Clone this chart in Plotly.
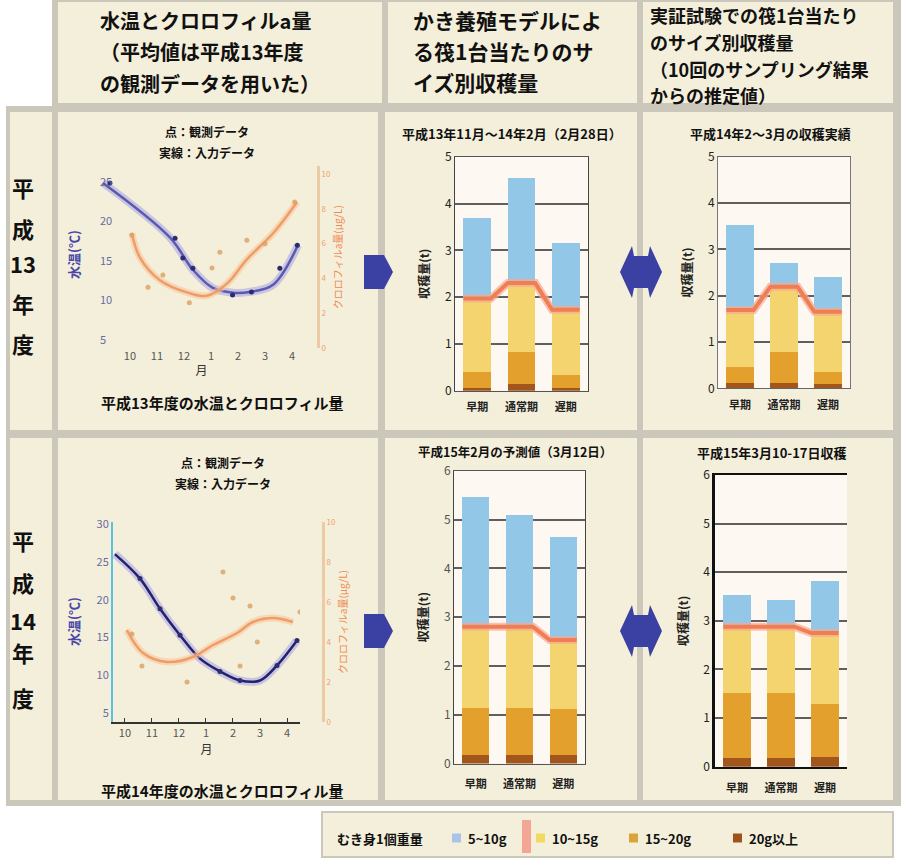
import plotly.graph_objects as go
import numpy as np

W, H = 901, 861
FONT = "Noto Sans CJK JP"


def X(p):
    return p / W


def Y(p):
    return 1 - p / H


# ---------------- data ----------------
months = ["10", "11", "12", "1", "2", "3", "4"]
month_pos = [0, 1, 2, 3, 4, 5, 6]
categories = ["早期", "通常期", "遅期"]

# H13 (2001) water temperature: input line and observations (month offset from Oct)
h13_temp_t = [-1.0, 1.48, 2.33, 3.07, 3.81, 4.44, 5.30, 6.22]
h13_temp_v = [24.9, 18.0, 13.9, 11.6, 11.0, 11.1, 12.0, 17.0]
h13_temp_obs_t = [-0.74, 1.67, 1.96, 2.33, 3.80, 4.50, 5.55, 6.20]
h13_temp_obs_v = [24.9, 17.9, 15.4, 14.1, 10.7, 11.1, 14.1, 17.0]
# H13 chlorophyll a
h13_chl_t = [0.07, 0.37, 1.11, 2.11, 2.85, 3.59, 4.33, 5.30, 6.19]
h13_chl_v = [6.6, 5.2, 3.9, 3.2, 3.0, 3.7, 5.1, 6.6, 8.4]
h13_chl_obs_t = [0.07, 0.67, 1.22, 2.20, 3.04, 3.33, 4.33, 5.00, 6.10]
h13_chl_obs_v = [6.5, 3.5, 4.2, 2.6, 4.6, 5.5, 6.2, 6.0, 8.4]

# H14 (2002) water temperature
h14_temp_t = [-0.37, 0.56, 1.30, 2.04, 2.78, 3.52, 4.26, 5.00, 5.63, 6.37]
h14_temp_v = [26.05, 22.8, 18.8, 15.3, 12.2, 10.5, 9.3, 9.3, 11.3, 14.6]
h14_temp_obs_t = [0.56, 1.30, 2.04, 3.52, 4.26, 5.63, 6.37]
h14_temp_obs_v = [22.8, 18.8, 15.3, 10.5, 9.3, 11.3, 14.6]
# H14 chlorophyll a
h14_chl_t = [0.07, 0.67, 1.56, 2.52, 3.26, 4.15, 4.74, 5.48, 6.22]
h14_chl_v = [4.6, 3.45, 3.0, 3.25, 3.85, 4.45, 5.0, 5.2, 5.0]
h14_chl_obs_t = [0.26, 0.63, 2.30, 3.63, 4.00, 4.26, 4.63, 4.90, 6.48]
h14_chl_obs_v = [4.4, 2.8, 2.0, 7.5, 6.2, 2.8, 5.8, 4.0, 5.5]

# harvest per raft by size class (t): [早期, 通常期, 遅期]
h13_model = dict(g20=[0.05, 0.15, 0.05], g15=[0.36, 0.68, 0.29],
                 g10=[1.56, 1.47, 1.39], g5=[1.72, 2.24, 1.43])
h13_trial = dict(g20=[0.11, 0.12, 0.10], g15=[0.36, 0.67, 0.26],
                 g10=[1.22, 1.40, 1.29], g5=[1.84, 0.51, 0.76])
h14_model = dict(g20=[0.17, 0.17, 0.17], g15=[0.97, 0.97, 0.95],
                 g10=[1.66, 1.66, 1.41], g5=[2.67, 2.29, 2.12])
h14_trial = dict(g20=[0.17, 0.17, 0.20], g15=[1.34, 1.34, 1.10],
                 g10=[1.37, 1.37, 1.45], g5=[0.65, 0.55, 1.06])

size_keys = ["g20", "g15", "g10", "g5"]
size_names = ["20g以上", "15~20g", "10~15g", "5~10g"]
size_colors = {"g20": "#a3561c", "g15": "#e4a02c", "g10": "#f3d46e", "g5": "#92c7e7"}

fig = go.Figure()

# ---------------- line charts ----------------
def line_chart(xa, ya, ya2, tt, tv, tot, tov, ct, cv, cot, cov, core):
    fig.add_trace(go.Scatter(x=tt, y=tv, mode="lines", xaxis=xa, yaxis=ya,
                             line=dict(color="rgba(165,160,230,0.55)", width=8, shape="spline"),
                             hoverinfo="skip"))
    fig.add_trace(go.Scatter(x=tt, y=tv, mode="lines", xaxis=xa, yaxis=ya,
                             line=dict(color=core, width=2.5, shape="spline")))
    fig.add_trace(go.Scatter(x=tot, y=tov, mode="markers", xaxis=xa, yaxis=ya,
                             marker=dict(color="#2c2c70", size=5)))
    fig.add_trace(go.Scatter(x=ct, y=cv, mode="lines", xaxis=xa, yaxis=ya2,
                             line=dict(color="rgba(250,195,150,0.55)", width=7, shape="spline"),
                             hoverinfo="skip"))
    fig.add_trace(go.Scatter(x=ct, y=cv, mode="lines", xaxis=xa, yaxis=ya2,
                             line=dict(color="#ee9d6a", width=2.5, shape="spline")))
    fig.add_trace(go.Scatter(x=cot, y=cov, mode="markers", xaxis=xa, yaxis=ya2,
                             marker=dict(color="#d9a060", size=5, opacity=0.8)))


line_chart("x", "y", "y2", h13_temp_t, h13_temp_v, h13_temp_obs_t, h13_temp_obs_v,
           h13_chl_t, h13_chl_v, h13_chl_obs_t, h13_chl_obs_v, "#5a5ab0")
line_chart("x4", "y5", "y6", h14_temp_t, h14_temp_v, h14_temp_obs_t, h14_temp_obs_v,
           h14_chl_t, h14_chl_v, h14_chl_obs_t, h14_chl_obs_v, "#22226e")

# ---------------- bar charts ----------------
def bar_chart(xa, ya, data):
    xs = np.arange(len(categories))
    for k, nm in zip(size_keys, size_names):
        fig.add_trace(go.Bar(x=xs, y=data[k], name=nm, width=0.62, xaxis=xa, yaxis=ya,
                             marker=dict(color=size_colors[k], line=dict(width=0))))
    cum = np.array(data["g20"]) + np.array(data["g15"]) + np.array(data["g10"])
    lx, ly = [], []
    for i, c in enumerate(cum):
        lx += [i - 0.31, i + 0.31]
        ly += [c, c]
    fig.add_trace(go.Scatter(x=lx, y=ly, mode="lines", xaxis=xa, yaxis=ya,
                             line=dict(color="rgba(245,170,150,0.7)", width=8)))
    fig.add_trace(go.Scatter(x=lx, y=ly, mode="lines", xaxis=xa, yaxis=ya,
                             line=dict(color="#ef7f52", width=4)))


bar_chart("x2", "y3", h13_model)
bar_chart("x3", "y4", h13_trial)
bar_chart("x5", "y7", h14_model)
bar_chart("x6", "y8", h14_trial)

# ---------------- axes ----------------
tickf = dict(family=FONT, size=11, color="#555555")
lav = dict(family=FONT, size=11, color="#6a6aa0")
org = dict(family=FONT, size=8, color="#f0a070")
barf = dict(family=FONT, size=12, color="#222222")
catf = dict(family=FONT, size=11, color="#222222", weight="bold")
ytitle = dict(text="収穫量(t)", font=dict(family=FONT, size=12, color="#222222", weight="bold"),
              standoff=12)

layout_axes = dict(
    # row 1 line chart
    xaxis=dict(domain=[X(97), X(306)], range=[-1.22, 6.52], anchor="y", tickvals=month_pos,
               ticktext=months, showgrid=False, zeroline=False, showline=False, tickfont=tickf,
               title=dict(text="月", font=dict(family=FONT, size=12, color="#333"), standoff=4)),
    yaxis=dict(domain=[Y(348), Y(166.3)], range=[4, 27], anchor="x", tickvals=[5, 10, 15, 20, 25],
               ticklabelposition="inside", showgrid=False, zeroline=False, showline=False,
               tickfont=lav),
    yaxis2=dict(overlaying="y", anchor="free", position=X(318), side="right",
                range=[0, 10.45], tickvals=[0, 2, 4, 6, 8, 10], showgrid=False, zeroline=False,
                showline=True, linecolor="#eccaa6", linewidth=3, tickfont=org,
                title=dict(text="クロロフィルa量(μg/L)",
                           font=dict(family=FONT, size=10, color="#f08850"), standoff=4)),
    # row 1 bar charts
    xaxis2=dict(domain=[X(455), X(588)], range=[-0.5, 2.5], anchor="y3", tickvals=[0, 1, 2],
                ticktext=categories, showgrid=False, zeroline=False, showline=True, mirror=True,
                linecolor="#555", tickfont=catf, ticklabelstandoff=6),
    yaxis3=dict(domain=[Y(390.7), Y(156.7)], range=[0, 5], anchor="x2", dtick=1, showgrid=True,
                gridcolor="#5f5f5f", gridwidth=1.5, zeroline=False, showline=True, mirror=True,
                linecolor="#444", tickfont=barf, title=ytitle),
    xaxis3=dict(domain=[X(718), X(850)], range=[-0.5, 2.5], anchor="y4", tickvals=[0, 1, 2],
                ticktext=categories, showgrid=False, zeroline=False, showline=True, mirror=True,
                linecolor="#666", tickfont=catf, ticklabelstandoff=6),
    yaxis4=dict(domain=[Y(388.3), Y(156.7)], range=[0, 5], anchor="x3", dtick=1, showgrid=True,
                gridcolor="#5f5f5f", gridwidth=1.5, zeroline=False, showline=True, mirror=True,
                linecolor="#777", tickfont=barf, title=ytitle),
    # row 2 line chart
    xaxis4=dict(domain=[X(113), X(300)], range=[-0.44, 6.48], anchor="y5", tickvals=month_pos,
                ticktext=months, showgrid=False, zeroline=False, showline=True, linecolor="#333",
                linewidth=2, ticks="inside", ticklen=4, tickcolor="#333", tickfont=tickf,
                title=dict(text="月", font=dict(family=FONT, size=12, color="#333"), standoff=6)),
    yaxis5=dict(domain=[Y(722), Y(522)], range=[3.8, 30.3], anchor="x4",
                tickvals=[5, 10, 15, 20, 25, 30], showgrid=False, zeroline=False, showline=True,
                linecolor="#5cc0e0", linewidth=2, tickfont=lav),
    yaxis6=dict(overlaying="y5", anchor="free", position=X(323), side="right", range=[0, 10],
                dtick=2, showgrid=False, zeroline=False, showline=True, linecolor="#eccaa6",
                linewidth=3, tickfont=org,
                title=dict(text="クロロフィルa量(μg/L)",
                           font=dict(family=FONT, size=10, color="#f08850"), standoff=4)),
    # row 2 bar charts
    xaxis5=dict(domain=[X(454), X(585)], range=[-0.5, 2.5], anchor="y7", tickvals=[0, 1, 2],
                ticktext=categories, showgrid=False, zeroline=False, showline=True, mirror=True,
                linecolor="#555", tickfont=catf, ticklabelstandoff=10),
    yaxis7=dict(domain=[Y(763.5), Y(470.7)], range=[0, 6], anchor="x5", dtick=1, showgrid=True,
                gridcolor="#5f5f5f", gridwidth=1.5, zeroline=False, showline=True, mirror=True,
                linecolor="#444", tickfont=dict(family=FONT, size=12, color="#555"),
                title=ytitle),
    xaxis6=dict(domain=[X(715), X(847)], range=[-0.5, 2.5], anchor="y8", tickvals=[0, 1, 2],
                ticktext=categories, showgrid=False, zeroline=False, showline=True, mirror=True,
                linecolor="#111", linewidth=2, tickfont=catf, ticklabelstandoff=10),
    yaxis8=dict(domain=[Y(766.7), Y(475)], range=[0, 6], anchor="x6", dtick=1, showgrid=True,
                gridcolor="#5f5f5f", gridwidth=1.5, zeroline=False, showline=True,
                linecolor="#111", linewidth=2.5, tickfont=barf, title=ytitle),
)
for ax in layout_axes.values():
    ax["automargin"] = False

# ---------------- background shapes ----------------
BEIGE = "#f4efda"
GRAY = "#cbc7bb"
shapes = []


def rect(x0, y0, x1, y1, fill, line=None, lw=0):
    shapes.append(dict(type="rect", xref="paper", yref="paper", x0=X(x0), x1=X(x1),
                       y0=Y(y1), y1=Y(y0), fillcolor=fill, layer="below",
                       line=dict(width=lw, color=line or fill)))


rect(52, 0, 901, 108, GRAY)
rect(6, 106, 901, 806, GRAY)
# header cells
rect(58, 2, 382, 103, BEIGE)
rect(388, 2, 637, 103, BEIGE)
rect(643, 2, 893, 103, BEIGE)
# row labels
rect(10, 112, 52, 430, BEIGE)
rect(10, 438, 52, 800, BEIGE)
# chart cells
for (y0, y1) in [(112, 430), (438, 800)]:
    rect(58, y0, 378, y1, BEIGE)
    rect(385, y0, 637, y1, BEIGE)
    rect(643, y0, 893, y1, BEIGE)
# legend box
rect(322, 812, 893, 857, BEIGE, line=GRAY, lw=2)

# white plot areas for bar charts
for xr, yr in [("x2", "y3"), ("x3", "y4"), ("x5", "y7"), ("x6", "y8")]:
    shapes.append(dict(type="rect", xref=f"{xr} domain", yref=f"{yr} domain", x0=0, x1=1,
                       y0=0, y1=1, fillcolor="#fdf8f2", layer="below", line=dict(width=0)))


def path(pts):
    s = "M" + " L".join(f"{X(a):.5f},{Y(b):.5f}" for a, b in pts) + " Z"
    return s


ARROW = "#3b41a3"
for cy in [272, 631]:
    shapes.append(dict(type="path", xref="paper", yref="paper",
                       path=path([(364, cy - 17), (384, cy - 17), (393, cy), (384, cy + 17),
                                  (364, cy + 17)]),
                       fillcolor=ARROW, line=dict(width=0)))
    shapes.append(dict(type="path", xref="paper", yref="paper",
                       path=path([(620, cy), (632, cy - 26), (634, cy - 16), (648, cy - 16),
                                  (650, cy - 26), (662, cy), (650, cy + 26), (648, cy + 16),
                                  (634, cy + 16), (632, cy + 26)]),
                       fillcolor=ARROW, line=dict(width=0)))

# legend swatches
for (x0, col, hgt) in [(452, "#a9c4e8", 9), (536, "#f0da62", 9), (629, "#d9a53a", 9),
                       (733, "#a0521c", 9)]:
    rect(x0, 838 - hgt / 2, x0 + 9, 838 + hgt / 2, col)
rect(522, 820, 531, 853, "#f4a694")

# ---------------- annotations ----------------
ann = []


def text(x, y, s, size=12, color="#111", bold=True, xanchor="center", angle=0):
    ann.append(dict(x=X(x), y=Y(y), xref="paper", yref="paper", text=s, showarrow=False,
                    xanchor=xanchor, yanchor="middle", textangle=angle,
                    font=dict(family=FONT, size=size, color=color,
                              weight="bold" if bold else "normal")))


# headers
for s, y in [("水温とクロロフィルa量", 20), ("（平均値は平成13年度", 52), ("の観測データを用いた）", 84)]:
    text(98, y, s, size=20, xanchor="left")
for s, y in [("かき養殖モデルによ", 20), ("る筏1台当たりのサ", 51), ("イズ別収穫量", 82)]:
    text(411, y, s, size=21, xanchor="left")
for s, y in [("実証試験での筏1台当たり", 15), ("のサイズ別収穫量", 42), ("（10回のサンプリング結果", 69),
             ("からの推定値）", 95)]:
    text(648, y, s, size=18, xanchor="left")

# row labels
for s, y in zip(["平", "成", "13", "年", "度"], [187, 228, 263, 303, 343]):
    text(23, y, s, size=22)
for s, y in zip(["平", "成", "14", "年", "度"], [540, 582, 620, 652, 697]):
    text(23, y, s, size=22)

# line chart texts
text(207, 132, "点：観測データ", size=12)
text(207, 153, "実線：入力データ", size=12)
text(222, 403, "平成13年度の水温とクロロフィル量", size=15)
text(73, 255, "水温(℃)", size=13, color="#4848a8", angle=-90)
text(223, 462, "点：観測データ", size=12)
text(223, 483, "実線：入力データ", size=12)
text(222, 790, "平成14年度の水温とクロロフィル量", size=15)
text(73, 622, "水温(℃)", size=13, color="#4848a8", angle=-90)

# bar chart titles
text(512, 133, "平成13年11月～14年2月（2月28日）", size=13)
text(770, 133, "平成14年2～3月の収穫実績", size=13)
text(515, 451, "平成15年2月の予測値（3月12日）", size=12.5)
text(772, 452, "平成15年3月10-17日収穫", size=13)

# legend texts
text(335, 838, "むき身1個重量", size=13, xanchor="left")
text(466, 838, "5~10g", size=13, xanchor="left")
text(550, 838, "10~15g", size=13, xanchor="left")
text(643, 838, "15~20g", size=13, xanchor="left")
text(747, 838, "20g以上", size=13, xanchor="left")

fig.update_layout(
    width=W, height=H, margin=dict(l=0, r=0, t=0, b=0, autoexpand=False),
    paper_bgcolor="#ffffff", plot_bgcolor="rgba(0,0,0,0)",
    barmode="stack", showlegend=False, bargap=0.3,
    font=dict(family=FONT), shapes=shapes, annotations=ann,
    **layout_axes,
)

fig.write_html("out.html", config={"displayModeBar": False},
               post_script="document.body.style.margin='0';document.body.style.overflow='hidden';")
